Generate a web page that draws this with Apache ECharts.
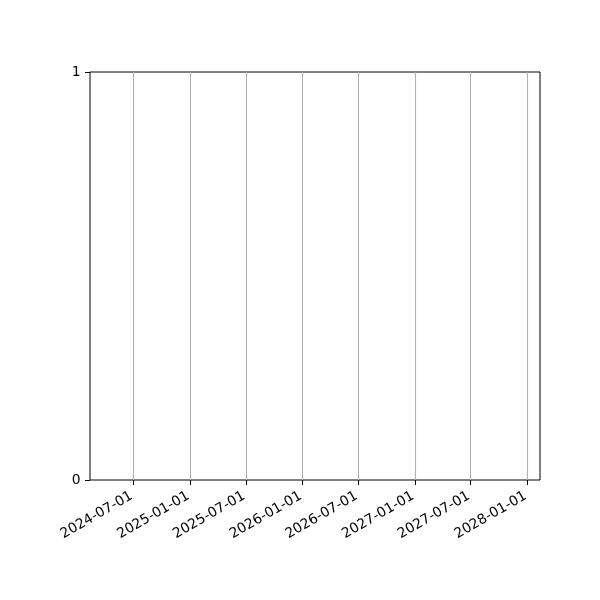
<!DOCTYPE html>
<html>
<head>
<meta charset="utf-8">
<script src="https://cdn.jsdelivr.net/npm/echarts@6/dist/echarts.min.js"></script>
<style>html,body{margin:0;padding:0;background:#fff}#c{width:600px;height:600px}</style>
</head>
<body>
<div id="c"></div>
<script>
// Tick labels (dates) on the x axis
const xTickLabels = ['2024-07-01','2025-01-01','2025-07-01','2026-01-01','2026-07-01','2027-01-01','2027-07-01','2028-01-01'];
const xRange = ['2024-02-11','2028-02-11'];
// Y tick labels
const yTicks = [0, 1];
// Series values (the reference plot is empty)
const seriesDates = [];
const seriesValues = [];

function ts(s){ const p = s.split('-').map(Number); return Date.UTC(p[0], p[1]-1, p[2]); }
function fmt(v){ const d = new Date(v); const p = n => String(n).padStart(2,'0'); return d.getUTCFullYear()+'-'+p(d.getUTCMonth()+1)+'-'+p(d.getUTCDate()); }

const tickVals = xTickLabels.map(ts);
const chart = echarts.init(document.getElementById('c'), null, {renderer:'canvas'});
chart.setOption({
  animation:false,
  grid:{left:90, right:60, top:72, bottom:120, show:true, borderColor:'#000', borderWidth:1, backgroundColor:'transparent'},
  xAxis:{
    type:'value', min:ts(xRange[0]), max:ts(xRange[1]),
    axisLine:{show:false, onZero:false},
    axisTick:{show:true, inside:false, length:5, customValues:tickVals, lineStyle:{color:'#000', width:1}},
    axisLabel:{customValues:tickVals, rotate:30, formatter:v=>fmt(v), color:'#000', fontFamily:'DejaVu Sans', fontSize:13.9, margin:14, padding:[0,2,0,0]},
    splitLine:{show:true, lineStyle:{color:'#b0b0b0', width:1.1}}
  },
  yAxis:{
    type:'value', min:yTicks[0], max:yTicks[yTicks.length-1], interval:1,
    axisLine:{show:false},
    axisTick:{show:true, inside:false, length:5, lineStyle:{color:'#000', width:1}},
    axisLabel:{color:'#000', fontFamily:'DejaVu Sans', fontSize:13.9, margin:9.5},
    splitLine:{show:false}
  },
  series:[{type:'line', data:seriesDates.map((d,i)=>[ts(d), seriesValues[i]]), showSymbol:false}]
});
</script>
</body>
</html>
